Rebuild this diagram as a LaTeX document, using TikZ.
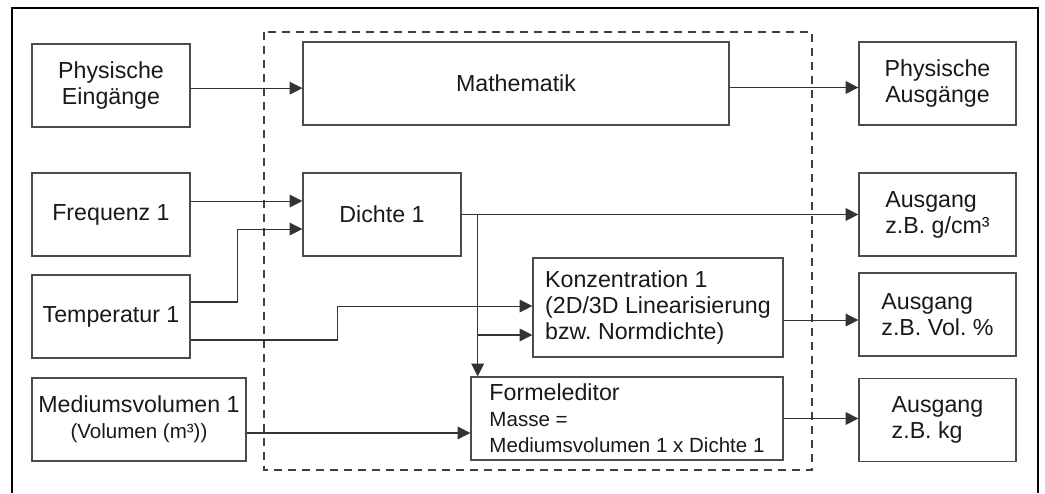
\documentclass[tikz,border=0pt]{standalone}
\usepackage{fontspec}
\setmainfont{Liberation Sans}
\usetikzlibrary{arrows.meta}
\newcommand{\smalltext}{\fontsize{15.4}{17.2}\selectfont}

\begin{document}
\begin{tikzpicture}[
  x=0.75pt,y=-0.75pt,
  >={Triangle[length=9.5pt,width=9.5pt]},
  font=\fontsize{17.4}{19.5}\selectfont,
  block/.style={draw=black!70, line width=1pt, minimum height=62.25pt, inner sep=0pt, text=black!90},
  outbox/.style={block, minimum width=117.75pt, align=left},
  flow/.style={->, draw=black!80, line width=0.8pt},
  frame/.style={draw=black, line width=2.2pt},
  group/.style={draw=black!75, line width=0.8pt, dash pattern=on 6pt off 4.5pt}
]
\useasboundingbox (0,0) rectangle (1045,493);

% Outer frame and the dashed calculation area
\draw[frame] (12,493) -- (12,8) -- (1038,8) -- (1038,493);
\draw[group] (264,32) rectangle (812,470);

% Inputs
\node[block, minimum width=118.5pt, align=center] (ein) at (111,85.5) {Physische\\Eingänge};
\node[block, minimum width=118.5pt] (frq) at (111,214.5) {Frequenz 1};
\node[block, minimum width=118.5pt] (temp) at (111,316.5) {Temperatur 1};
\node[block, minimum width=160.5pt, align=center] (medium) at (139,419.5)
  {Mediumsvolumen 1\\{\smalltext (Volumen (m³))}};

% Calculation blocks
\node[block, minimum width=319.5pt] (math) at (516,83.5) {Mathematik};
\node[block, minimum width=118.5pt] (dichte) at (382,214.5) {Dichte 1};
\node[block, minimum width=187.5pt, minimum height=74.25pt, align=left] (konz) at (658,307.5)
  {Konzentration 1\\(2D/3D Linearisierung\\bzw.\ Normdichte)};
\node[block, minimum width=234pt, align=left] (formel) at (627,418.5)
  {Formeleditor\\{\smalltext Masse =}\\{\smalltext Mediumsvolumen 1 x Dichte 1}};

% Outputs
\node[outbox, align=center] (pa) at (937.5,83.5) {Physische\\Ausgänge};
\node[outbox] (gcm) at (937.5,214.5) {Ausgang\\z.B. g/cm³};
\node[outbox] (vol) at (937.5,314.5) {Ausgang\\z.B. Vol.\ \%};
\node[outbox] (kg) at (937.5,420) {Ausgang\\z.B. kg};

% Connections
\draw[flow] ([yshift=-2pt]ein.east) -- ([yshift=-2pt]ein.east -| math.west);
\draw[flow] ([yshift=-3pt]math.east) -- ([yshift=-3pt]math.east -| pa.west);
\draw[flow] ([yshift=10.1pt]frq.east) -- ([yshift=10.1pt]frq.east -| dichte.west);
\draw[flow] ([yshift=10.9pt]temp.east) -- ++(47,0) |- ([yshift=-10.9pt]dichte.west);
\draw[flow] ([yshift=-17.6pt]temp.east) -- ++(147,0) |- ([yshift=1.1pt]konz.west);
\draw[flow] (dichte.east) -- (gcm.west);
\coordinate (split) at ([xshift=12pt]dichte.east);
\draw[flow] (split) -- (split |- formel.north);
\draw[flow] ([yshift=-20.6pt]konz.west -| split) -- ([yshift=-20.6pt]konz.west);
\draw[flow] ([yshift=-9.4pt]konz.east) -- ([yshift=-9.4pt]konz.east -| vol.west);
\draw[flow] (formel.east) -- (formel.east -| kg.west);
\draw[flow] ([yshift=-10.1pt]medium.east) -- ([yshift=-10.1pt]medium.east -| formel.west);

\end{tikzpicture}
\end{document}
